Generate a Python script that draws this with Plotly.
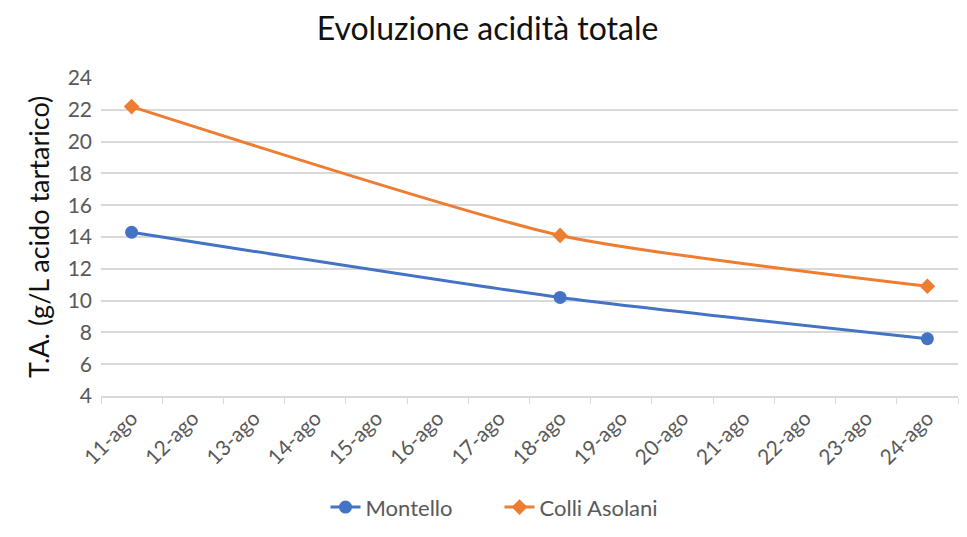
import plotly.graph_objects as go

days = ["11-ago", "12-ago", "13-ago", "14-ago", "15-ago", "16-ago", "17-ago",
        "18-ago", "19-ago", "20-ago", "21-ago", "22-ago", "23-ago", "24-ago"]
sample_days = ["11-ago", "18-ago", "24-ago"]
montello = [14.3, 10.2, 7.6]
colli_asolani = [22.2, 14.1, 10.9]
y_ticks = [4, 6, 8, 10, 12, 14, 16, 18, 20, 22, 24]

font_family = "Lato, 'Open Sans', sans-serif"

fig = go.Figure()
fig.add_trace(go.Scatter(
    x=sample_days, y=montello, name="Montello", mode="lines+markers",
    line=dict(color="#4472C4", width=3, shape="spline", smoothing=0.6),
    marker=dict(symbol="circle", size=13, color="#4472C4"),
))
fig.add_trace(go.Scatter(
    x=sample_days, y=colli_asolani, name="Colli Asolani", mode="lines+markers",
    line=dict(color="#ED7D31", width=3, shape="spline", smoothing=0.6),
    marker=dict(symbol="diamond", size=12, color="#ED7D31"),
))

# page body has an 8px default margin, so the figure is sized to compensate
fig.update_layout(
    width=959, height=529,
    margin=dict(l=93, r=9, t=70, b=136),
    paper_bgcolor="white", plot_bgcolor="white",
    font=dict(family=font_family, color="#595959"),
    title=dict(text="Evoluzione acidità totale", x=0.5, xanchor="center",
               xref="container", yref="container",
               y=1 - 21 / 529, yanchor="middle",
               font=dict(size=32, color="#111111", family=font_family)),
    showlegend=True,
    legend=dict(orientation="h", x=0.465, xanchor="center",
                y=-0.35, yanchor="middle",
                font=dict(size=22, color="#595959"), entrywidth=129),
)
fig.update_xaxes(
    type="category", categoryorder="array", categoryarray=days,
    tickmode="array", tickvals=days, ticktext=days,
    range=[-0.5, len(days) - 0.5], automargin=False,
    tickson="boundaries", ticks="outside", ticklen=6, tickcolor="#d9d9d9",
    showline=True, linecolor="#d9d9d9", linewidth=1.5,
    showgrid=False, tickangle=-45,
    tickfont=dict(size=21, color="#595959"),
)
fig.update_yaxes(
    range=[4, 24], tickmode="array", tickvals=y_ticks, automargin=False,
    showgrid=True, gridcolor="#d9d9d9", gridwidth=1.5,
    zeroline=False, showline=False,
    tickfont=dict(size=21, color="#595959"), ticks="", ticklabelstandoff=8,
    title=dict(text="T.A. (g/L acido tartarico)", font=dict(size=27, color="#111111"),
               standoff=10),
)

fig.write_html("out.html")
